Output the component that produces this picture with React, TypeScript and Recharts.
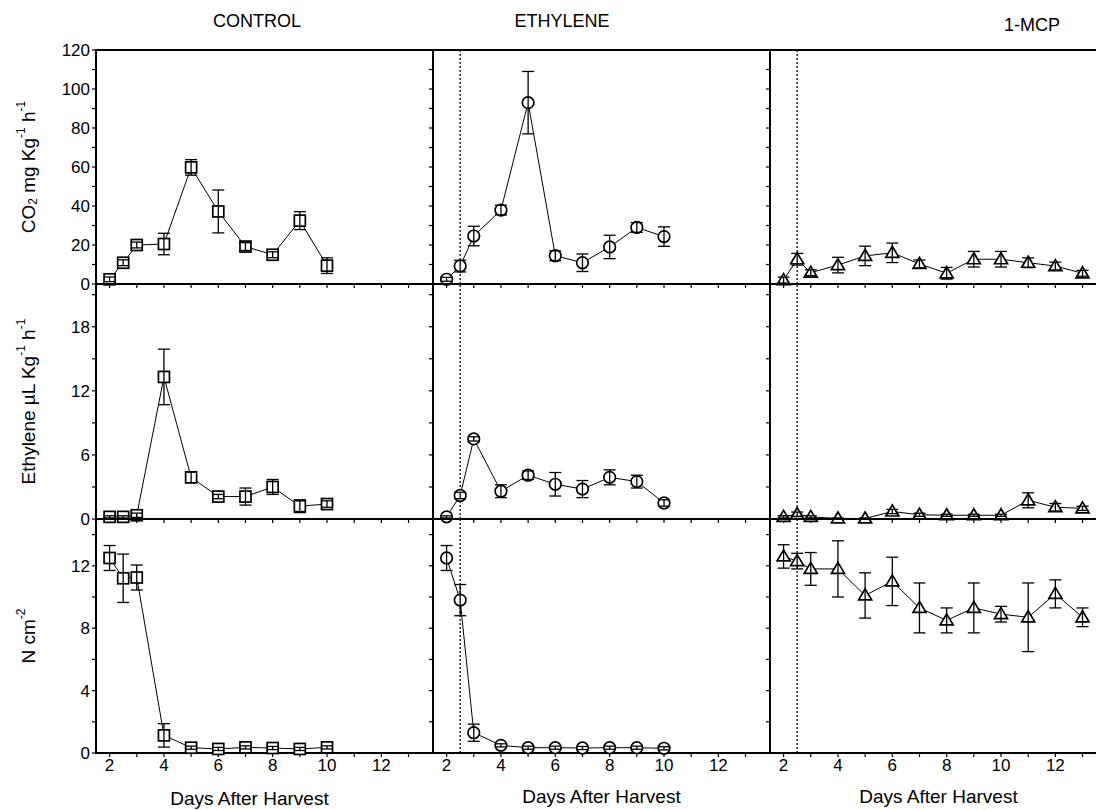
import React from 'react'
import { LineChart, Line, XAxis, YAxis, ErrorBar, ReferenceLine, ReferenceArea } from 'recharts'

const FONT = '"Liberation Sans", Arial, Helvetica, sans-serif'

const columnTitles = ['CONTROL', 'ETHYLENE', '1-MCP']

const daysShort = [2, 2.5, 3, 4, 5, 6, 7, 8, 9, 10]
const daysLong = [2, 2.5, 3, 4, 5, 6, 7, 8, 9, 10, 11, 12, 13]
const xTicks = [2, 3, 4, 5, 6, 7, 8, 9, 10, 11, 12, 13]
const xLabels = [2, 4, 6, 8, 10, 12]

// CO2 production, mg Kg-1 h-1
const co2Control = [2.4, 10.9, 20, 20.5, 59.8, 37.2, 19.2, 15, 32.5, 9.4]
const co2ControlErr = [1.2, 1.5, 1.5, 5.5, 4, 11, 2, 1.5, 4.6, 4]
const co2Ethylene = [2.4, 9.2, 24.6, 37.9, 93, 14.5, 10.9, 19, 29, 24.3]
const co2EthyleneErr = [1, 3, 5, 2.5, 16, 2.5, 4.5, 6, 2.5, 5]
const co2Mcp = [2, 12.7, 5.8, 9.7, 14.4, 16, 10.3, 5.5, 12.7, 12.7, 10.9, 9.2, 5.5]
const co2McpErr = [1.5, 3, 1.5, 4, 5, 5, 2, 3, 4, 4, 2.5, 2, 1.5]
const co2Ticks = [0, 10, 20, 30, 40, 50, 60, 70, 80, 90, 100, 110, 120]
const co2Labels = [0, 20, 40, 60, 80, 100, 120]

// Ethylene production, uL Kg-1 h-1
const ethControl = [0.2, 0.2, 0.35, 13.3, 3.9, 2.1, 2.1, 3.0, 1.2, 1.4]
const ethControlErr = [0.1, 0.1, 0.2, 2.6, 0.5, 0.2, 0.8, 0.7, 0.6, 0.3]
const ethEthylene = [0.2, 2.2, 7.5, 2.6, 4.1, 3.25, 2.8, 3.9, 3.5, 1.5]
const ethEthyleneErr = [0.1, 0.3, 0.2, 0.6, 0.4, 1.1, 0.8, 0.7, 0.6, 0.3]
const ethMcp = [0.2, 0.45, 0.2, 0.05, 0.05, 0.7, 0.4, 0.35, 0.35, 0.35, 1.75, 1.1, 1.0]
const ethMcpErr = [0.1, 0.2, 0.1, 0.05, 0.05, 0.2, 0.15, 0.1, 0.1, 0.1, 0.7, 0.35, 0.2]
const ethTicks = [0, 3, 6, 9, 12, 15, 18, 21]
const ethLabels = [0, 6, 12, 18]

// firmness, N cm-2
const firmControl = [12.5, 11.2, 11.25, 1.13, 0.34, 0.26, 0.36, 0.32, 0.26, 0.36]
const firmControlErr = [0.8, 1.55, 0.8, 0.75, 0.1, 0.1, 0.1, 0.1, 0.1, 0.1]
const firmEthylene = [12.5, 9.8, 1.3, 0.49, 0.34, 0.34, 0.32, 0.34, 0.34, 0.3]
const firmEthyleneErr = [0.8, 1.0, 0.55, 0.1, 0.1, 0.1, 0.1, 0.1, 0.1, 0.1]
const firmMcp = [12.6, 12.3, 11.8, 11.8, 10.1, 11.0, 9.3, 8.5, 9.3, 8.9, 8.7, 10.2, 8.7]
const firmMcpErr = [0.75, 0.5, 1.05, 1.8, 1.45, 1.55, 1.6, 0.8, 1.6, 0.5, 2.2, 0.9, 0.6]
const firmTicks = [0, 2, 4, 6, 8, 10, 12, 14]
const firmLabels = [0, 4, 8, 12]

const X_DOMAIN: [number, number] = [1.5, 13.9]
const PLOT_W = 337
const COL_X = [96, 433, 770]
const ROW_Y = [50, 284, 519]
const ROW_H = [234, 235, 234]
const PAD_L = 96
const PAD_T = 10
const PAD_R = 10

type Shape = 'square' | 'circle' | 'triangle'
const shapes: Shape[] = ['square', 'circle', 'triangle']
const dayLists = [daysShort, daysShort, daysLong]

function Marker({ cx, cy, shape }: { cx: number; cy: number; shape: Shape }) {
  if (cx == null || cy == null) return null
  const common = { fill: '#fff', stroke: '#000', strokeWidth: 1.7 }
  if (shape === 'square') return <rect x={cx - 5.5} y={cy - 5.5} width={11} height={11} {...common} />
  if (shape === 'circle') return <circle cx={cx} cy={cy} r={5.8} {...common} />
  return <polygon points={`${cx},${cy - 6.5} ${cx + 6.5},${cy + 4.5} ${cx - 6.5},${cy + 4.5}`} {...common} />
}

function YTitle({ viewBox, row }: any) {
  if (!viewBox) return null
  const cx = viewBox.x + 28
  const cy = viewBox.y + viewBox.height / 2
  const t = `rotate(-90 ${cx} ${cy})`
  const sup = { fontSize: 12 }
  return (
    <text x={cx} y={cy} transform={t} textAnchor="middle" dominantBaseline="central" fontSize={19} fill="#000" fontFamily={FONT}>
      {row === 0 && (
        <>
          <tspan>CO</tspan>
          <tspan dy={5} {...sup}>2</tspan>
          <tspan dy={-5}> mg Kg</tspan>
          <tspan dy={-7} {...sup}>-1</tspan>
          <tspan dy={7}> h</tspan>
          <tspan dy={-7} {...sup}>-1</tspan>
        </>
      )}
      {row === 1 && (
        <>
          <tspan>Ethylene µL Kg</tspan>
          <tspan dy={-7} {...sup}>-1</tspan>
          <tspan dy={7}> h</tspan>
          <tspan dy={-7} {...sup}>-1</tspan>
        </>
      )}
      {row === 2 && (
        <>
          <tspan>N cm</tspan>
          <tspan dy={-7} {...sup}>-2</tspan>
        </>
      )}
    </text>
  )
}

const rows = [
  { domain: [0, 120], ticks: co2Ticks, labels: co2Labels, series: [co2Control, co2Ethylene, co2Mcp], errors: [co2ControlErr, co2EthyleneErr, co2McpErr] },
  { domain: [0, 22], ticks: ethTicks, labels: ethLabels, series: [ethControl, ethEthylene, ethMcp], errors: [ethControlErr, ethEthyleneErr, ethMcpErr] },
  { domain: [0, 15], ticks: firmTicks, labels: firmLabels, series: [firmControl, firmEthylene, firmMcp], errors: [firmControlErr, firmEthyleneErr, firmMcpErr] },
]

function Panel({ row, col }: { row: number; col: number }) {
  const def = rows[row]
  const days = dayLists[col]
  const data = days.map((d, i) => ({ day: d, value: def.series[col][i], err: def.errors[col][i] }))
  const isBottom = row === 2
  const xAxisH = isBottom ? 60 : 10
  const height = PAD_T + ROW_H[row] + xAxisH
  const width = PAD_L + PLOT_W + PAD_R
  const shape = shapes[col]
  return (
    <div style={{ position: 'absolute', left: COL_X[col] - PAD_L, top: ROW_Y[row] - PAD_T }}>
      <LineChart width={width} height={height} data={data} margin={{ top: PAD_T, right: PAD_R, left: 0, bottom: 0 }}>
        <ReferenceArea
          x1={X_DOMAIN[0]}
          x2={X_DOMAIN[1]}
          y1={def.domain[0]}
          y2={def.domain[1]}
          fill="none"
          stroke="#000"
          strokeWidth={2}
        />
        <XAxis
          type="number"
          dataKey="day"
          domain={X_DOMAIN}
          ticks={xTicks}
          interval={0}
          height={xAxisH}
          tickSize={4}
          axisLine={{ stroke: '#000', strokeWidth: 2 }}
          tickLine={{ stroke: '#000', strokeWidth: 1.2 }}
          tick={{ fontSize: 17, fill: '#000', fontFamily: FONT }}
          tickFormatter={(v: number) => (isBottom && xLabels.includes(v) ? String(v) : '')}
          label={
            isBottom
              ? {
                  value: 'Days After Harvest',
                  position: 'insideBottom',
                  offset: col === 0 ? 8 : 10,
                  dx: col === 0 ? -15 : 0,
                  fontSize: 19,
                  fill: '#000',
                  fontFamily: FONT,
                }
              : undefined
          }
        />
        <YAxis
          type="number"
          domain={def.domain}
          ticks={def.ticks}
          interval={0}
          width={PAD_L}
          tickSize={4}
          axisLine={{ stroke: '#000', strokeWidth: 2 }}
          tickLine={{ stroke: '#000', strokeWidth: 1.2 }}
          tick={{ fontSize: 17, fill: '#000', fontFamily: FONT }}
          tickFormatter={(v: number) => (col === 0 && def.labels.includes(v) ? String(v) : '')}
          label={col === 0 ? <YTitle row={row} /> : undefined}
        />
        {col > 0 && <ReferenceLine x={2.5} stroke="#000" strokeWidth={1.3} strokeDasharray="2 2" />}
        <Line
          type="linear"
          dataKey="value"
          stroke="#000"
          strokeWidth={1}
          isAnimationActive={false}
          dot={(p: any) => <Marker key={`m-${p.index}`} cx={p.cx} cy={p.cy} shape={shape} />}
          activeDot={false}
        />
        <Line
          type="linear"
          dataKey="value"
          stroke="none"
          dot={false}
          activeDot={false}
          isAnimationActive={false}
          zIndex={1000}
        >
          <ErrorBar
            dataKey="err"
            direction="y"
            width={6}
            stroke="#000"
            strokeWidth={1.3}
            isAnimationActive={false}
            zIndex={1000}
          />
        </Line>
      </LineChart>
    </div>
  )
}

const titleX = [257, 562, 1032]
const titleY = [27, 27, 31]

export default function App() {
  return (
    <div
      style={{
        position: 'absolute',
        left: 0,
        top: 0,
        width: 1096,
        height: 810,
        overflow: 'hidden',
        background: '#fff',
        fontFamily: FONT,
      }}
    >
      <svg width={1096} height={50} style={{ position: 'absolute', left: 0, top: 0 }}>
        {columnTitles.map((t, i) => (
          <text key={t} x={titleX[i]} y={titleY[i]} textAnchor="middle" fontSize={18} fill="#000" fontFamily={FONT}>
            {t}
          </text>
        ))}
      </svg>
      {[0, 1, 2].map((row) => [0, 1, 2].map((col) => <Panel key={`${row}-${col}`} row={row} col={col} />))}
    </div>
  )
}
